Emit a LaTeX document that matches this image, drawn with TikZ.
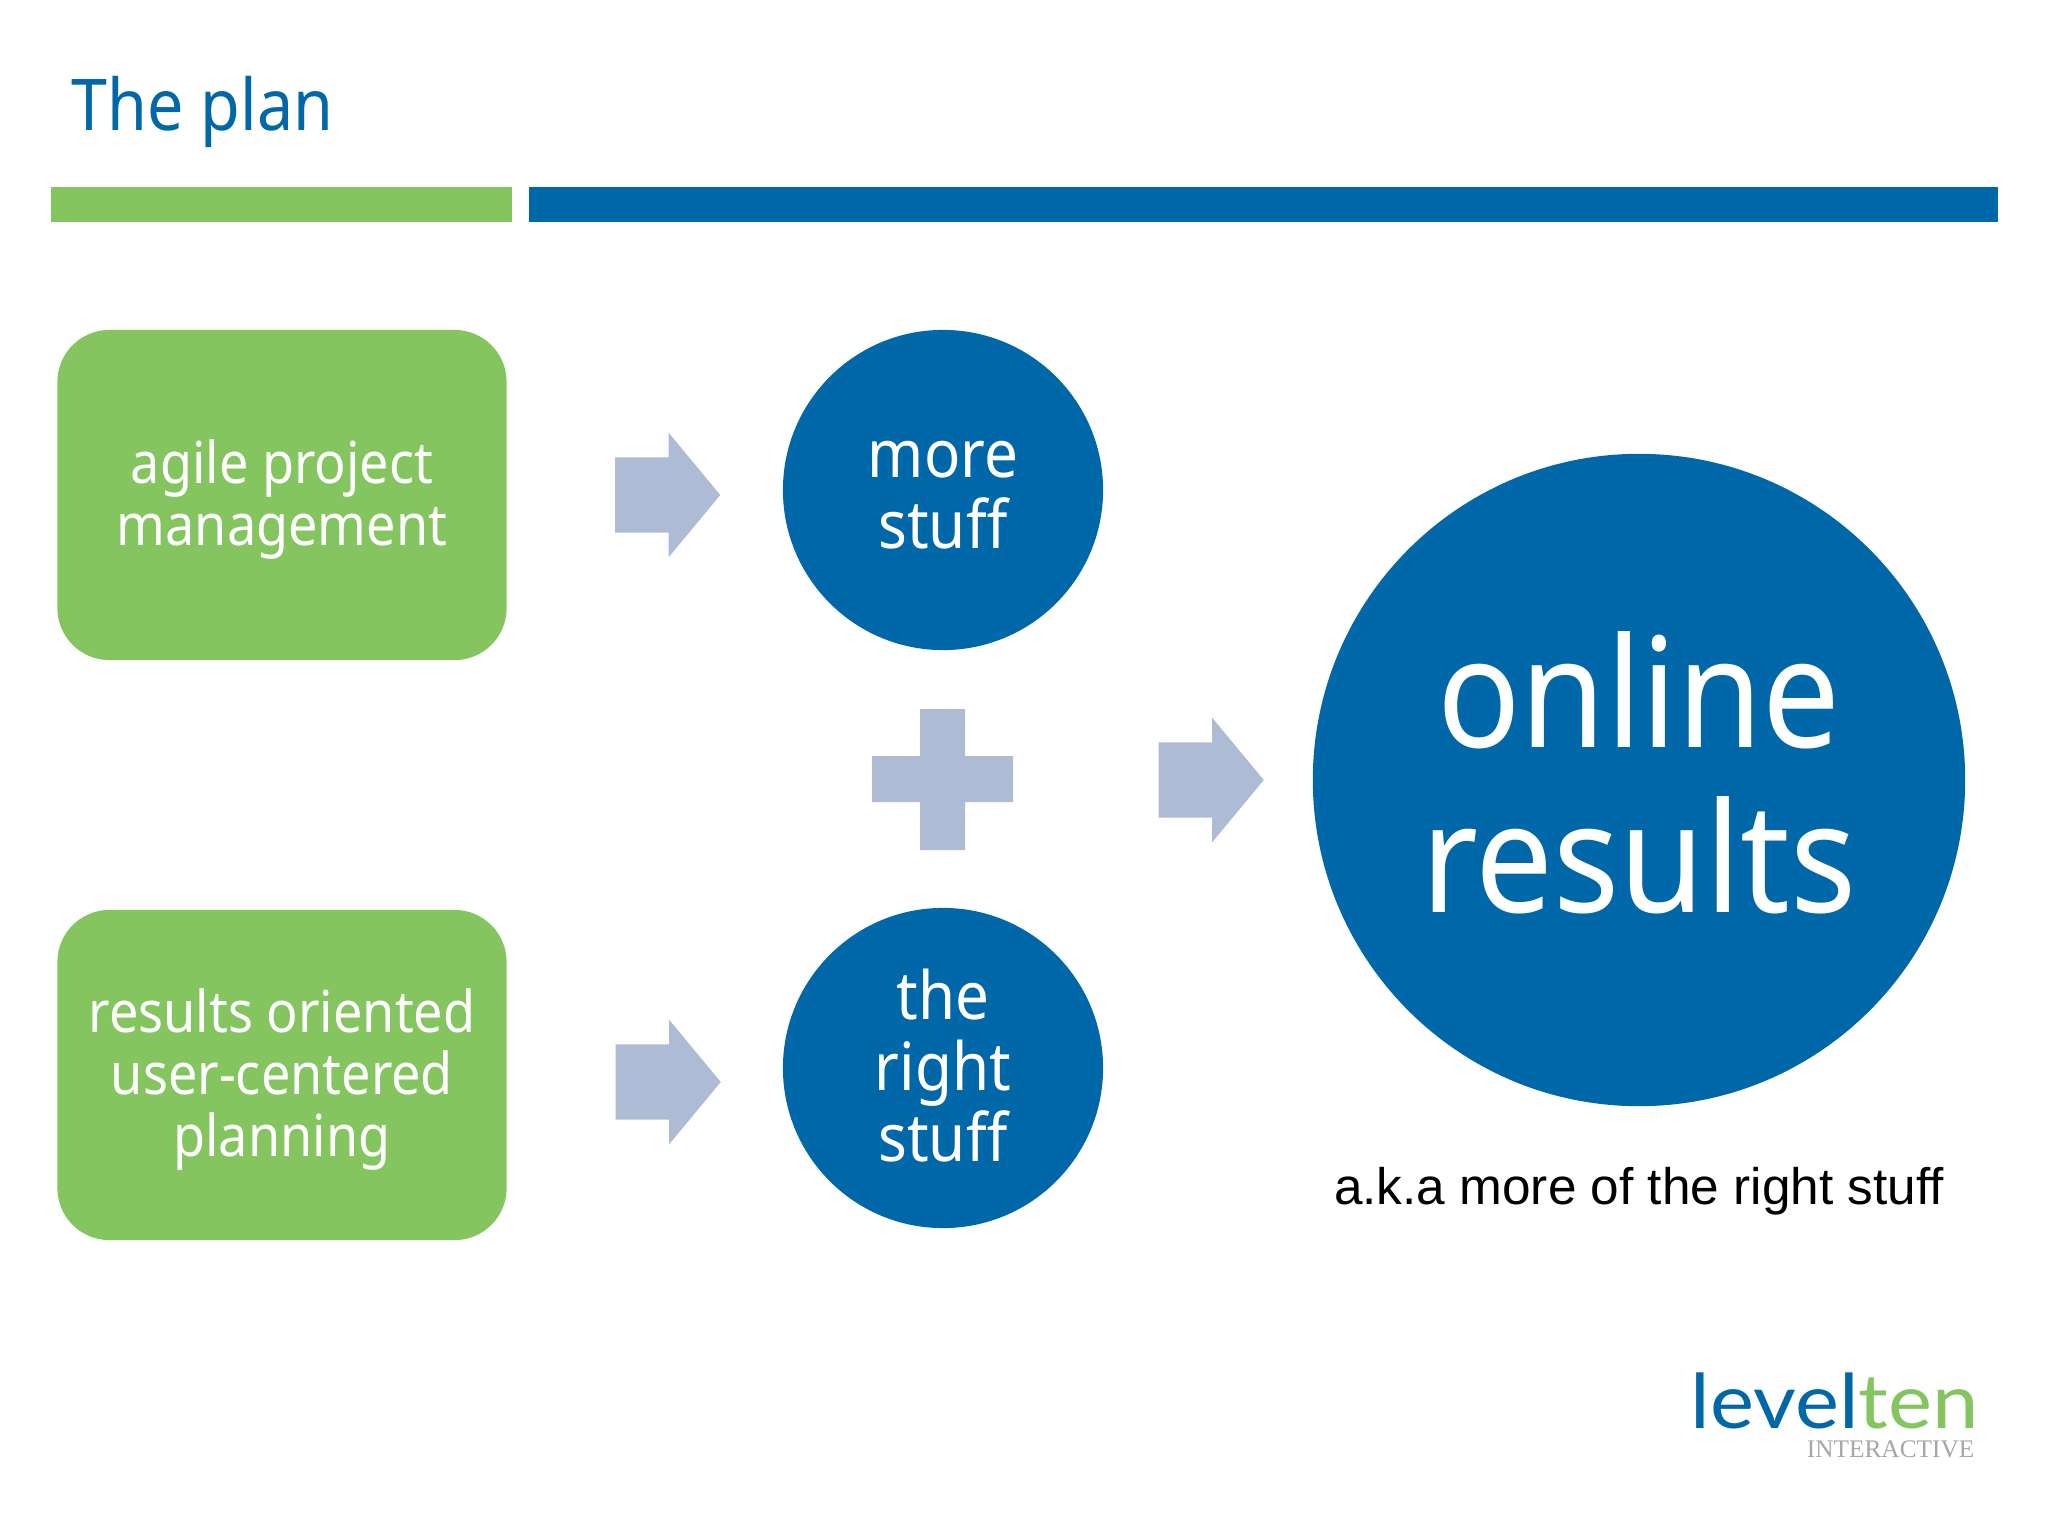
\documentclass[tikz,border=0pt]{standalone}
\usepackage{fontspec}
\setmainfont[FakeStretch=0.905]{Noto Sans}
\newfontfamily\captionfont{Liberation Sans}
\newfontfamily\logofont[FakeStretch=1.1]{Lato}
\newfontfamily\tagfont{Liberation Serif}
\usepackage{xcolor}
\usetikzlibrary{shapes.arrows}

\definecolor{planblue}{HTML}{0067A9}
\definecolor{plangreen}{HTML}{84C55F}
\definecolor{arrowgrey}{HTML}{AEBBD5}

\tikzset{
  greenbox/.style={fill=plangreen,rounded corners=0.52cm,minimum width=4.49cm,
    minimum height=3.3cm,inner sep=0pt,text=white,align=center,text depth=0pt,
    font=\fontsize{16.4}{17.6}\selectfont},
  bluecirc/.style={circle,fill=planblue,inner sep=0pt,text=white,align=center,
    text depth=0pt},
  smallcirc/.style={bluecirc,minimum size=3.2cm,
    font=\fontsize{18.9}{20.2}\selectfont},
  blockarrow/.style={single arrow,fill=arrowgrey,anchor=tail,inner xsep=0pt,
    inner ysep=0.37cm,minimum height=1.05cm,minimum width=1.23cm,
    single arrow head extend=0.245cm,single arrow tip angle=100.7},
  barpiece/.style={minimum height=0.35cm,inner sep=0pt,anchor=west}
}

\begin{document}
\begin{tikzpicture}[x=0.01cm,y=-0.01cm]
  \useasboundingbox (0,0) rectangle (2048,1536);

  % header
  \node[text=planblue,anchor=base west,inner sep=0pt,
    font=\fontsize{20.3}{24}\selectfont] (title) at (71,130) {The plan};
  \node[barpiece,fill=plangreen,minimum width=4.61cm] (greenbar) at (50,204.5) {};
  \node[barpiece,fill=planblue,minimum width=14.68cm] (bluebar) at (528,204.5) {};

  % left column
  \node[greenbox,text height=1cm] (agile) at (282,495)
    {agile project\\management};
  \node[greenbox,text height=1.62cm] (oriented) at (282,1075)
    {results oriented\\user-centered\\planning};

  % middle column
  \node[smallcirc,text height=1.16cm] (more) at (943,490) {more\\stuff};
  \node[smallcirc,text height=1.87cm] (right) at (943,1068)
    {the\\right\\stuff};
  \fill[arrowgrey] (920,709) rectangle (965,850) (872,756) rectangle (1013,802);

  % right column
  \node[bluecirc,minimum size=6.52cm,text height=2.64cm,
    font=\fontsize{43.4}{46.7}\selectfont] (online) at (1639,780)
    {online\\results};
  \node[font=\captionfont\fontsize{14.6}{17}\selectfont,anchor=base,inner sep=0pt]
    (aka) at (1639,1204) {a.k.a more of the right stuff};

  % block arrows
  \node[blockarrow] (arrowa) at (614.5,495) {};
  \node[blockarrow] (arrowb) at (615,1082) {};
  \node[blockarrow] (arrowc) at (1158,780) {};

  % logo
  \node[anchor=base west,inner sep=0pt,font=\logofont\fontsize{21.5}{25}\selectfont]
    (logo) at (1690,1428) {\textcolor{planblue}{level}\textcolor{plangreen}{ten}};
  \node[anchor=base east,inner sep=0pt,text=gray!70,
    font=\tagfont\fontsize{7.2}{9}\selectfont] (tag) at (1975,1457) {INTERACTIVE};
\end{tikzpicture}
\end{document}
